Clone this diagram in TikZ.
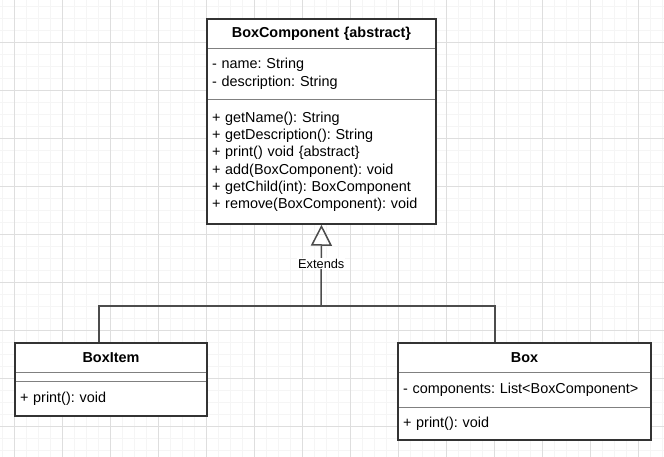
\documentclass[tikz,border=0pt]{standalone}
\usepackage{fontspec}
\setmainfont{Liberation Sans}
\usepackage{tikz}
\usetikzlibrary{arrows.meta, positioning, fit}
\frenchspacing
\newcommand{\umlfont}{\fontsize{14.4}{17.3}\selectfont}
\tikzstyle{classhead}=[rectangle, fill=white, inner xsep=5pt, inner ysep=0pt, font=\umlfont\bfseries, align=center, minimum height=29pt]
\tikzstyle{classbody}=[rectangle, fill=white, inner xsep=5pt, inner ysep=0pt, font=\umlfont, align=left]
\tikzstyle{classframe}=[rectangle, draw=black!80, line width=1.5pt, inner sep=0pt]
\tikzstyle{divider}=[draw=black!50, line width=1pt]
\tikzstyle{link}=[draw=black!70, line width=1.5pt]
\tikzstyle{extends}=[link, -{Triangle[open, length=21pt, width=21pt]}]
\tikzstyle{extlabel}=[fill=white, inner sep=1pt, font=\fontsize{12.8}{15}\selectfont]
\tikzstyle{gridminor}=[draw=black!4, line width=0.8pt]
\tikzstyle{gridmajor}=[draw=black!13, line width=0.8pt]
\begin{document}
\begin{tikzpicture}[x=1pt, y=-1pt]
		\useasboundingbox (0,0) rectangle (664,457);
		% background grid
		\foreach \i in {0,...,55} {
			\draw [gridminor] (2.7+12*\i,0) -- (2.7+12*\i,457);
		}
		\foreach \i in {0,...,38} {
			\draw [gridminor] (0,6.3+12*\i) -- (664,6.3+12*\i);
		}
		\foreach \i in {0,...,13} {
			\draw [gridmajor] (14.7+48*\i,0) -- (14.7+48*\i,457);
		}
		\foreach \i in {0,...,8} {
			\draw [gridmajor] (0,42.3+48*\i) -- (664,42.3+48*\i);
		}

		% abstract class
		\node (compHead) [classhead, text width=219pt] at (321.5,33.5) {BoxComponent \{abstract\}};
		\node (compAttr) [classbody, text width=219pt, minimum height=51pt, below=0pt of compHead] {- name: String\\- description: String};
		\node (compOps) [classbody, text width=219pt, minimum height=124pt, below=0pt of compAttr] {+ getName(): String\\+ getDescription(): String\\+ print() void \{abstract\}\\+ add(BoxComponent): void\\+ getChild(int): BoxComponent\\+ remove(BoxComponent): void};
		\draw [divider] (compHead.south west) -- (compHead.south east);
		\draw [divider] (compAttr.south west) -- (compAttr.south east);
		\node (comp) [classframe, fit=(compHead)(compAttr)(compOps)] {};

		% leaf
		\node (itemHead) [classhead, text width=182pt] at (111,357.5) {BoxItem};
		\node (itemAttr) [classbody, text width=182pt, minimum height=9pt, below=0pt of itemHead] {};
		\node (itemOps) [classbody, text width=182pt, minimum height=34pt, below=0pt of itemAttr] {+ print(): void};
		\draw [divider] (itemHead.south west) -- (itemHead.south east);
		\draw [divider] (itemAttr.south west) -- (itemAttr.south east);
		\node (item) [classframe, fit=(itemHead)(itemAttr)(itemOps)] {};

		% composite
		\node (boxHead) [classhead, text width=243pt] at (524.5,357.5) {Box};
		\node (boxAttr) [classbody, text width=243pt, minimum height=35pt, below=0pt of boxHead] {- components: List<BoxComponent>};
		\node (boxOps) [classbody, text width=243pt, minimum height=32pt, below=0pt of boxAttr] {+ print(): void};
		\draw [divider] (boxHead.south west) -- (boxHead.south east);
		\draw [divider] (boxAttr.south west) -- (boxAttr.south east);
		\node (box) [classframe, fit=(boxHead)(boxAttr)(boxOps)] {};

		\coordinate (junction) at (321,306);
		\draw [link] ([xshift=-12pt]item.north) |- (junction);
		\draw [link] ([xshift=-29.5pt]box.north) |- (junction);
		\draw [extends] (junction) -- node [extlabel, pos=0.52] {Extends} (comp.south);
	\end{tikzpicture}
\end{document}
